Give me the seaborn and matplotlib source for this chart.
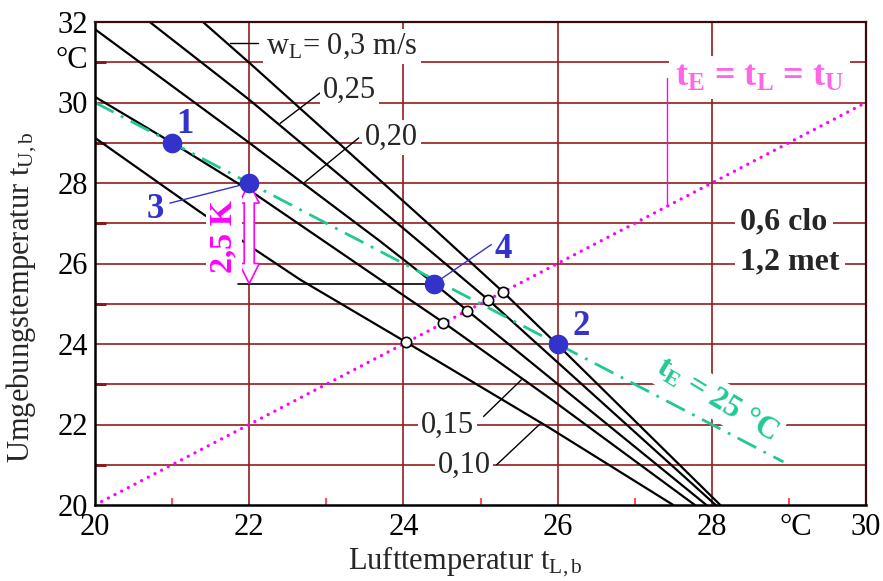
import numpy as np
import pandas as pd
import matplotlib
matplotlib.use("Agg")
import matplotlib.pyplot as plt
from matplotlib.patches import Polygon
import seaborn as sns

# ---------------- data ----------------
wl_labels = ["0,10", "0,15", "0,20", "0,25", "0,3"]

l010_x = [20.00, 21.34, 22.08, 22.66, 24.04, 25.90, 27.50]
l010_y = [29.12, 27.31, 26.34, 25.60, 24.04, 21.91, 20.00]
l015_x = [20.00, 21.00, 22.05, 23.70, 24.53, 25.90, 27.78]
l015_y = [30.14, 29.00, 27.76, 25.60, 24.52, 22.65, 20.00]
l020_x = [20.00, 22.00, 23.70, 24.40, 24.83, 27.93]
l020_y = [31.82, 29.00, 26.55, 25.50, 24.83, 20.00]
l025_x = [20.71, 22.00, 24.02, 25.10, 28.05]
l025_y = [32.00, 30.07, 26.84, 25.10, 20.00]
l030_x = [21.40, 22.00, 24.41, 25.30, 26.00, 28.11]
l030_y = [32.00, 30.99, 26.84, 25.28, 23.98, 20.00]

# crossings of the w_L lines with t_E = t_L = t_U
cross_t = [24.04, 24.52, 24.83, 25.10, 25.29]

# numbered state points
pt_labels = ["1", "2", "3", "4"]
pt_x = [21.0, 26.0, 22.0, 24.4]
pt_y = [29.0, 24.0, 28.0, 25.5]

# t_E = 25 °C line
te_x = [20.0, 28.93]
te_y = [30.0, 21.07]

# diagonal t_E = t_L = t_U
diag_x = [20.0, 30.0]
diag_y = [20.0, 30.0]

x_ticks = [20, 22, 24, 26, 28, 30]
y_ticks = [20, 22, 24, 26, 28, 30, 32]

# ---------------- style ----------------
sns.set_theme(style="white")
plt.rcParams["font.family"] = ["Liberation Serif", "DejaVu Serif"]
plt.rcParams["mathtext.fontset"] = "custom"
plt.rcParams["mathtext.rm"] = "Liberation Serif"
plt.rcParams["mathtext.it"] = "Liberation Serif:italic"
plt.rcParams["mathtext.bf"] = "Liberation Serif:bold"
plt.rcParams["lines.scale_dashes"] = False

GRID = "#931c1c"
GREEN = "#1fc996"
BLUE = "#3333cc"
MAG = "#ff00ff"
PINK = "#ff66e6"

fig = plt.figure(figsize=(8.83, 5.81), dpi=100)
ax = fig.add_axes([95 / 883, 76 / 581, 771 / 883, 483 / 581])
ax.set_xlim(20, 30)
ax.set_ylim(20, 32)

# grid (drawn manually)
for yv in range(21, 32):
    ax.axhline(yv, color=GRID, lw=1.2, zorder=1)
for xv in [22, 24, 26, 28]:
    ax.axvline(xv, color=GRID, lw=1.2, zorder=1)

# black w_L lines
rows = []
for lab, xs, ys in zip(wl_labels,
                       [l010_x, l015_x, l020_x, l025_x, l030_x],
                       [l010_y, l015_y, l020_y, l025_y, l030_y]):
    for i, (a, b) in enumerate(zip(xs, ys)):
        rows.append({"w": lab, "i": i, "tL": a, "tU": b})
df = pd.DataFrame(rows)
sns.lineplot(data=df, x="tL", y="tU", hue="w", palette=["black"] * 5,
             sort=False, estimator=None, legend=False, lw=1.6, ax=ax, zorder=3)

# diagonal dotted line
ax.plot(diag_x, diag_y, color=MAG, lw=2.4, linestyle=(0, (0.01, 5.4)),
        dash_capstyle="round", zorder=4)

# t_E = 25 line (dash-dot)
ax.plot(te_x, te_y, color=GREEN, lw=2.0, linestyle=(0, (15, 6, 2, 6)), zorder=4)

# open circles on diagonal
sns.scatterplot(x=cross_t, y=cross_t, s=55, color="white", edgecolor="black",
                linewidth=1.2, ax=ax, zorder=6, legend=False)

# reference line at point 4 level and 2,5 K arrow
ax.plot([21.85, pt_x[3]], [pt_y[3], pt_y[3]], color="black", lw=1.2, zorder=3)
x0, top, bot = pt_x[2], pt_y[2], pt_y[3]
hw, sw, hl = 0.13, 0.065, 0.5
arrow = Polygon([(x0, top), (x0 + hw, top - hl), (x0 + sw, top - hl),
                 (x0 + sw, bot + hl), (x0 + hw, bot + hl), (x0, bot),
                 (x0 - hw, bot + hl), (x0 - sw, bot + hl), (x0 - sw, top - hl),
                 (x0 - hw, top - hl)], closed=True, fc="white", ec=MAG, lw=1.2,
                zorder=5)
ax.add_patch(arrow)
ax.text(21.67, 26.67, "2,5 K", color=MAG, fontsize=23, fontweight="bold",
        rotation=90, ha="center", va="center", zorder=5,
        bbox=dict(fc="white", ec="none", pad=2.5))

# leader lines for 3 and 4
ax.plot([20.97, pt_x[2]], [27.50, pt_y[2]], color=BLUE, lw=1.0, zorder=6)
ax.plot([pt_x[3], 25.14], [pt_y[3], 26.47], color=BLUE, lw=1.0, zorder=6)

# blue points
sns.scatterplot(x=pt_x, y=pt_y, s=200, color=BLUE, edgecolor=BLUE,
                linewidth=0, ax=ax, zorder=7, legend=False)
for lab, tx, ty in zip(pt_labels, [21.17, 26.31, 20.78, 25.30],
                       [29.45, 24.44, 27.35, 26.34]):
    ax.text(tx, ty, lab, color=BLUE, fontsize=25, fontweight="bold",
            ha="center", va="center", zorder=8)

# w_L labels with leaders
box = dict(fc="white", ec="none", pad=2)
ax.plot([21.75, 22.11], [31.48, 31.48], color="black", lw=1.0, zorder=3)
ax.text(22.22, 31.40, r"w$_{\rm L}$= 0,3 m/s", fontsize=22, ha="left",
        va="center", zorder=5, bbox=box)
ax.plot([22.40, 22.92], [29.48, 30.24], color="black", lw=1.0, zorder=3)
ax.text(22.96, 30.30, wl_labels[3], fontsize=22, ha="left", va="center",
        zorder=5, bbox=box)
ax.plot([22.72, 23.42], [28.02, 29.12], color="black", lw=1.0, zorder=3)
ax.text(23.50, 29.13, wl_labels[2], fontsize=22, ha="left", va="center",
        zorder=5, bbox=box)
ax.plot([25.04, 25.53], [22.20, 23.11], color="black", lw=1.0, zorder=3)
ax.text(24.92, 21.99, wl_labels[1], fontsize=22, ha="right", va="center",
        zorder=5, bbox=box)
ax.plot([25.21, 25.77], [21.00, 22.01], color="black", lw=1.0, zorder=3)
ax.text(25.13, 20.98, wl_labels[0], fontsize=22, ha="right", va="center",
        zorder=5, bbox=box)

# clo / met
ax.text(28.37, 27.04, "0,6 clo", fontsize=23, fontweight="bold", ha="left",
        va="center", zorder=5, bbox=dict(fc="white", ec="none", pad=4))
ax.text(28.37, 26.04, "1,2 met", fontsize=23, fontweight="bold", ha="left",
        va="center", zorder=5, bbox=dict(fc="white", ec="none", pad=4))

# t_E = t_L = t_U label
ax.plot([27.42, 27.42], [27.42, 30.6], color=MAG, lw=1.0, zorder=3)
ax.text(27.52, 30.62, r"t$_{\mathbf{E}}$ = t$_{\mathbf{L}}$ = t$_{\mathbf{U}}$",
        color=PINK, fontsize=26, fontweight="bold", ha="left", va="center",
        zorder=5, bbox=dict(fc="white", ec="none", pad=4))

# t_E = 25 °C label
ax.text(28.07, 22.62, r"t$_{\mathbf{E}}$ = 25 °C", color=GREEN, fontsize=23,
        fontweight="bold", rotation=-31, rotation_mode="anchor", ha="center",
        va="center", zorder=5, bbox=dict(fc="white", ec="none", pad=3))

# axes, ticks
ax.set_xticks(x_ticks + [29.09])
ax.set_xticklabels([str(v) for v in x_ticks] + ["°C"], fontsize=22)
ax.set_yticks(y_ticks + [31.13])
ax.set_yticklabels([str(v) for v in y_ticks] + ["°C"], fontsize=22)
ax.tick_params(axis="both", which="major", length=0, pad=5, colors="black")
ax.tick_params(axis="x", pad=6)
ax.set_xticks([21, 23, 25, 27, 29], minor=True)
ax.set_yticks(list(range(21, 32)), minor=True)
ax.tick_params(axis="x", which="minor", direction="in", length=5, width=1.2,
               color="#ff3030", bottom=True)
ax.tick_params(axis="y", which="minor", direction="in", length=8, width=2,
               color="#7a0000", left=True)

ax.set_xlabel(r"Lufttemperatur t$_{\rm L,b}$", fontsize=22)
ax.set_ylabel(r"Umgebungstemperatur t$_{\rm U,b}$", fontsize=22)
ax.xaxis.set_label_coords(0.48, -0.083)
ax.yaxis.set_label_coords(-0.072, 0.43)

for side in ["top", "right"]:
    ax.spines[side].set_color("#3a0a0a")
    ax.spines[side].set_linewidth(1.6)
for side in ["left", "bottom"]:
    ax.spines[side].set_color("black")
    ax.spines[side].set_linewidth(1.8)
for s in ax.spines.values():
    s.set_zorder(9)

fig.savefig("out.png", dpi=100)
